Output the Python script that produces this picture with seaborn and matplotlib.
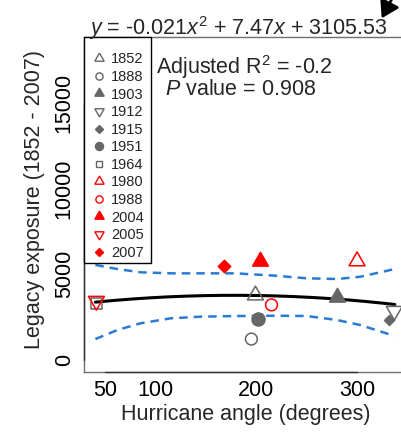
import numpy as np
import pandas as pd
import matplotlib
matplotlib.use("Agg")
import matplotlib.pyplot as plt
from matplotlib.lines import Line2D
from matplotlib.patches import FancyArrowPatch, Rectangle
import seaborn as sns

# Hurricane events: year, approach angle (degrees) and legacy exposure
years = ["1852", "1888", "1903", "1912", "1915", "1951",
         "1964", "1980", "1988", "2004", "2005", "2007"]
angle = [199, 195, 280, 337, 332, 202, 41, 300, 215, 204, 41, 168]
exposure = [3770, 1220, 3690, 2855, 2330, 2370, 3300, 5760, 3210, 5780, 3440, 5500]

# Quadratic fit coefficients (highest power first) and its confidence band
fit_coef = [-0.021, 7.47, 3105.53]
ci_angle = [40, 62, 85, 115, 145, 181, 190, 217, 250, 280, 303, 329, 337]
ci_upper = [5540, 5300, 5110, 5050, 5050, 5050, 5010, 4920, 4760, 4720, 4850, 5190, 5300]
ci_lower = [1220, 1750, 2140, 2430, 2525, 2565, 2565, 2580, 2565, 2330, 2040, 1555, 1400]

x_ticks = [50, 100, 150, 200, 250, 300]
x_tick_labels = ["50", "100", "", "200", "", "300"]
y_ticks = [0, 5000, 10000, 15000]

sns.set_style("white")
plt.rcParams["font.family"] = ["Liberation Sans", "DejaVu Sans"]
plt.rcParams["mathtext.fontset"] = "custom"
plt.rcParams["mathtext.rm"] = "Liberation Sans"
plt.rcParams["mathtext.it"] = "Liberation Sans:italic"

GREY = "#666666"
RED = "#ff0000"
UP = (3, 0, 0)
DOWN = (3, 0, 180)

# marker, filled, colour, scatter size (pt^2), legend marker size (pt)
style = {
    "1852": (UP, False, GREY, 175, 7.8),
    "1888": ("o", False, GREY, 72, 5.2),
    "1903": (UP, True, GREY, 175, 7.8),
    "1912": (DOWN, False, GREY, 175, 7.8),
    "1915": ("D", True, GREY, 26, 3.6),
    "1951": ("o", True, GREY, 88, 5.8),
    "1964": ("s", False, GREY, 60, 5.0),
    "1980": (UP, False, RED, 175, 7.8),
    "1988": ("o", False, RED, 72, 5.2),
    "2004": (UP, True, RED, 175, 7.8),
    "2005": (DOWN, False, RED, 175, 7.8),
    "2007": ("D", True, RED, 40, 4.2),
}

df = pd.DataFrame({"year": years, "angle": angle, "exposure": exposure})

fig = plt.figure(figsize=(4.01, 4.38), dpi=100)
W, H = 401, 438
AX_L, AX_B, AX_W, AX_H = 84.3, 66.3, 322.1, 334.7
ax = fig.add_axes([AX_L / W, AX_B / H, AX_W / W, AX_H / H])

# Fitted curve and confidence limits
grid = np.linspace(40, 337.5, 200)
sns.lineplot(x=grid, y=np.polyval(fit_coef, grid), color="black", lw=2.2,
             ax=ax, zorder=2, estimator=None, sort=False)
for band in (ci_upper, ci_lower):
    sns.lineplot(x=ci_angle, y=band, color="#2a7ad2", lw=1.8, ax=ax, zorder=2,
                 estimator=None, sort=False, dashes=False, linestyle=(0, (3.4, 2.4)))

# Points, one per event
for _, row in df.iterrows():
    m, filled, col, s, _ms = style[row["year"]]
    sns.scatterplot(x=[row["angle"]], y=[row["exposure"]], marker=m, s=s,
                    color=col, edgecolor=col, linewidth=1.1, ax=ax, zorder=3,
                    legend=False)
    if not filled:
        ax.collections[-1].set_facecolor("none")

ax.set_xlim(29, 349)
ax.set_ylim(-682, 18823)

# Axes box
for side in ("left", "bottom", "top", "right"):
    ax.spines[side].set_color("#707070")
    ax.spines[side].set_linewidth(1.0)
ax.plot([x_ticks[0], x_ticks[-1]], [0, 0], transform=ax.get_xaxis_transform(),
        color="#333333", lw=1.0, clip_on=False, zorder=5)
ax.plot([0, 0], [y_ticks[0], y_ticks[-1]], transform=ax.get_yaxis_transform(),
        color="#333333", lw=1.0, clip_on=False, zorder=5)

ax.set_xticks(x_ticks)
ax.set_xticklabels(x_tick_labels)
ax.set_yticks(y_ticks)
ax.set_yticklabels([str(v) for v in y_ticks], rotation=90, va="center")
ax.tick_params(axis="both", direction="out", length=4.3, width=1.0,
               color="#444444", labelsize=15.5, labelcolor="black")
ax.tick_params(axis="x", pad=2.0)
ax.tick_params(axis="y", pad=2.5)

ax.set_xlabel("Hurricane angle (degrees)", fontsize=15.5)
ax.set_ylabel("Legacy exposure (1852 - 2007)", fontsize=15.5)
ax.xaxis.set_label_coords(0.5, -0.1443)
ax.xaxis.label.set_va("baseline")
ax.yaxis.set_label_coords(-0.122, 0.515)

# Legend of event years, in a box tucked into the top-left corner
box_w, box_h = 67, 226
ax.add_patch(Rectangle((0, 1 - box_h / AX_H), box_w / AX_W, box_h / AX_H,
                       transform=ax.transAxes, facecolor="white",
                       edgecolor="black", lw=1.0, clip_on=False, zorder=5))
handles = []
for y in years:
    m, filled, col, _s, ms = style[y]
    handles.append(Line2D([], [], linestyle="none", marker=m, markersize=ms,
                          markeredgecolor=col, markeredgewidth=1.0,
                          markerfacecolor=col if filled else "none"))
leg = ax.legend(handles, years, loc="upper left",
                bbox_to_anchor=(0, 1 - 7.8 / AX_H),
                borderaxespad=0, frameon=False, fontsize=10.5,
                handlelength=1.02, handletextpad=0.31, borderpad=0.52,
                labelspacing=0.245)
leg.set_zorder(6)

# Fit statistics
fig.text(238 / W, 1 - 35.5 / H,
         r"$y$ = -0.021$x^{2}$ + 7.47$x$ + 3105.53",
         ha="center", va="baseline", fontsize=15.5)
fig.text(244.5 / W, 1 - 74 / H, r"Adjusted R$^{2}$ = -0.2",
         ha="center", va="baseline", fontsize=15.5)
fig.text(240.5 / W, 1 - 95 / H, r"$P$ value = 0.908",
         ha="center", va="baseline", fontsize=15.5)

# Pointer arrow at the top right
arrow = FancyArrowPatch(posA=(396, H + 9), posB=(381.7, H - 18.3),
                        transform=None,
                        arrowstyle="-|>,head_length=0.68,head_width=0.42",
                        mutation_scale=15, color="black", lw=2.0,
                        shrinkA=0, shrinkB=0)
fig.patches.append(arrow)

fig.savefig("out.png", dpi=100)
